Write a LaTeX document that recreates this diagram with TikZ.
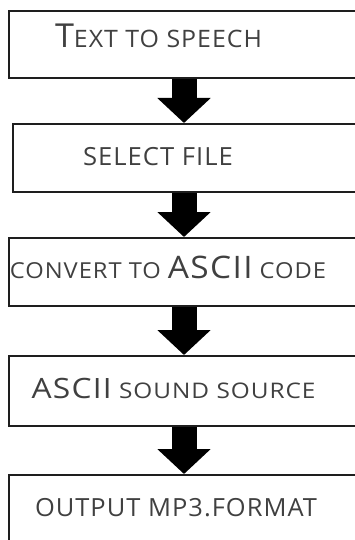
\documentclass[tikz,border=0pt]{standalone}
\usepackage{fontspec}
\usepackage{graphicx}
\setmainfont{Open Sans}
\newfontfamily\lblfont[LetterSpace=4]{Open Sans}
\usetikzlibrary{arrows.meta}
\definecolor{txt}{HTML}{404040}
\definecolor{edge}{HTML}{1E1E1E}
\newcommand\fsz[2]{{\lblfont\fontsize{#1}{#1}\selectfont #2}}
\newsavebox\lblbox
\newcommand\fitw[2]{\sbox\lblbox{#2}\pgfmathsetmacro\sxf{#1/\the\wd\lblbox}\scalebox{\sxf}[1]{\usebox\lblbox}}
\begin{document}
\begin{tikzpicture}[x=1pt,y=-1pt,
  box/.style={draw=edge,line width=2pt,rectangle,anchor=north west,minimum width=360pt,inner sep=0pt},
  lbl/.style={text=txt,inner sep=0pt,anchor=base},
  bigarrow/.style={line width=25pt,draw=black,-{Triangle[width=52pt,length=25pt]}}]
\useasboundingbox (0,0) rectangle (355,540);
\clip (0,0) rectangle (355,540);
\node[box,minimum height=67pt] (b1) at (8,10) {};
\node[box,minimum height=68pt] (b2) at (12,123) {};
\node[box,minimum height=68pt] (b3) at (8,237) {};
\node[box,minimum height=70pt] (b4) at (8,355) {};
\node[box,minimum height=80pt] (b5) at (8,474) {};
\coordinate (ax) at (184,0);
\node[lbl] (t1) at (158.5,47.5) {\fitw{207}{\fsz{33}{T}\fsz{24}{EXT TO SPEECH}}};
\node[lbl] (t2) at (158,165) {\fitw{150}{\fsz{25}{SELECT FILE}}};
\node[lbl] (t3) at (168,278) {\fitw{316}{\fsz{22}{CONVERT TO }\fsz{31}{ASCII}\fsz{22}{ CODE}}};
\node[lbl] (t4) at (173.5,398) {\fitw{284}{\fsz{28}{ASCII}\fsz{21.5}{ SOUND SOURCE}}};
\node[lbl] (t5) at (176,516.5) {\fitw{282}{\fsz{25}{OUTPUT MP3.FORMAT}}};
\draw[bigarrow] (ax |- b1.south) -- (ax |- b2.north);
\draw[bigarrow] (ax |- b2.south) -- (ax |- b3.north);
\draw[bigarrow] (ax |- b3.south) -- (ax |- b4.north);
\draw[bigarrow] (ax |- b4.south) -- (ax |- b5.north);
\end{tikzpicture}
\end{document}
